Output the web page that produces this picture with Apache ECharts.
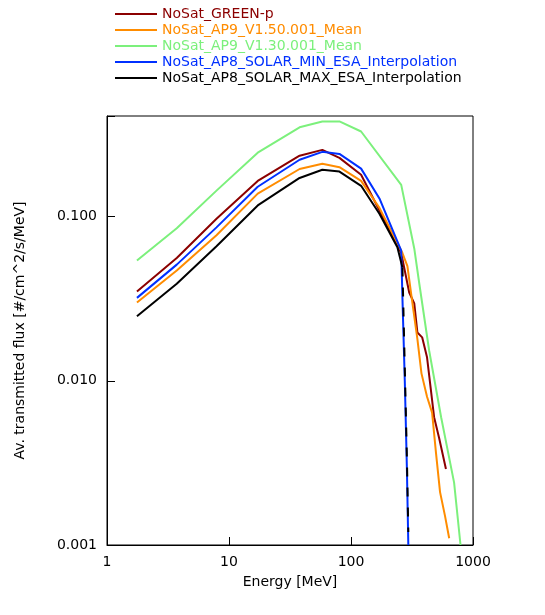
<!DOCTYPE html>
<html>
<head>
<meta charset="utf-8">
<script src="https://cdn.jsdelivr.net/npm/echarts@6/dist/echarts.min.js"></script>
<style>html,body{margin:0;padding:0;background:#fff}#c{width:545px;height:615px}</style>
</head>
<body>
<div id="c"></div>
<script>
// 数据 [能量 MeV, 通量]
var names = ['NoSat_GREEN-p', 'NoSat_AP9_V1.50.001_Mean', 'NoSat_AP9_V1.30.001_Mean',
  'NoSat_AP8_SOLAR_MIN_ESA_Interpolation', 'NoSat_AP8_SOLAR_MAX_ESA_Interpolation'];
var colors = ['#8b0000', '#ff8c00', '#7cf07c', '#0030ff', '#000000'];

var greenP = [[1.76,0.035],[3.73,0.056],[7.9,0.097],[17.2,0.165],[37.9,0.235],[58.2,0.255],[80.4,0.228],
  [121,0.18],[258,0.060],[300,0.0345],[330,0.0296],[350,0.0197],[383,0.0184],[420,0.0139],
  [480,0.0060],[527,0.0045],[600,0.0029]];
var ap9v15 = [[1.76,0.030],[3.73,0.047],[7.9,0.077],[17.2,0.138],[37.9,0.195],[58.2,0.21],[80.4,0.20],
  [121,0.165],[171,0.113],[264,0.060],[290,0.050],[311,0.034],[350,0.018],[378,0.0111],
  [420,0.0080],[462,0.0064],[498,0.0036],[537,0.0021],[590,0.0015],[638,0.0011]];
var ap9v13 = [[1.76,0.054],[3.73,0.085],[7.9,0.144],[17.2,0.245],[37.9,0.35],[58.2,0.38],[80.4,0.38],
  [121,0.33],[258,0.156],[330,0.064],[363,0.039],[437,0.0153],[548,0.0060],[700,0.0024],[790,0.001]];
var ap8min = [[1.76,0.032],[3.73,0.051],[7.9,0.086],[17.2,0.152],[37.9,0.222],[58.2,0.248],[80.4,0.241],
  [121,0.196],[171,0.129],[258,0.062],[264,0.032],[276,0.01],[287,0.003],[295,0.001]];
var ap8max = [[1.76,0.0247],[3.73,0.039],[7.9,0.066],[17.2,0.117],[37.9,0.172],[58.2,0.193],[80.4,0.188],
  [121,0.154],[171,0.104],[240,0.065],[264,0.049]];
var ap8maxTail = [[264,0.049],[276,0.012],[287,0.0035],[295,0.0012]];
var seriesData = [greenP, ap9v15, ap9v13, ap8min, ap8max];

var myChart = echarts.init(document.getElementById('c'));
var font = 'DejaVu Sans';
function isPow10(v) { var l = Math.log10(v); return Math.abs(l - Math.round(l)) < 1e-6; }
var series = seriesData.map(function (d, i) {
  return {
    name: names[i], type: 'line', data: d, symbol: 'none', showSymbol: false,
    lineStyle: { color: colors[i], width: 2 },
    itemStyle: { color: colors[i] }
  };
});
series.push({
  name: names[4], type: 'line', data: ap8maxTail, symbol: 'none', z: 5,
  lineStyle: { color: '#000', width: 2, type: [9, 11] }, itemStyle: { color: '#000' }
});
var option = {
  animation: false,
  legend: {
    orient: 'vertical', left: 110, top: 2, itemGap: 2, itemWidth: 42, itemHeight: 2, icon: 'rect',
    data: names.map(function (n, i) { return { name: n, textStyle: { color: colors[i] } }; }),
    textStyle: { fontFamily: font, fontSize: 14 }
  },
  grid: { left: 107, right: 72, top: 116, bottom: 70, show: true, borderColor: '#000', borderWidth: 1 },
  xAxis: {
    type: 'log', min: 1, max: 1000, logBase: 10,
    name: 'Energy [MeV]', nameLocation: 'middle', nameGap: 30,
    nameTextStyle: { fontFamily: font, fontSize: 14, color: '#000' },
    axisLine: { lineStyle: { color: '#000' } },
    axisTick: { inside: true, length: 8, lineStyle: { color: '#000' } },
    splitLine: { show: false },
    axisLabel: { fontFamily: font, fontSize: 14, color: '#000', margin: 10,
      formatter: function (v) { return String(Math.round(v)); } }
  },
  yAxis: {
    type: 'log', min: 0.001, max: 0.41, logBase: 10,
    name: 'Av. transmitted flux [#/cm^2/s/MeV]', nameLocation: 'middle', nameGap: 80,
    nameTextStyle: { fontFamily: font, fontSize: 14, color: '#000' },
    axisLine: { lineStyle: { color: '#000' } },
    axisTick: { inside: true, length: 8, lineStyle: { color: '#000' } },
    splitLine: { show: false },
    axisLabel: { fontFamily: font, fontSize: 14, color: '#000', margin: 10,
      formatter: function (v) { return isPow10(v) ? v.toFixed(3) : ''; } }
  },
  series: series
};
myChart.setOption(option);
window.addEventListener('resize', function () { myChart.resize(); });
</script>
</body>
</html>
